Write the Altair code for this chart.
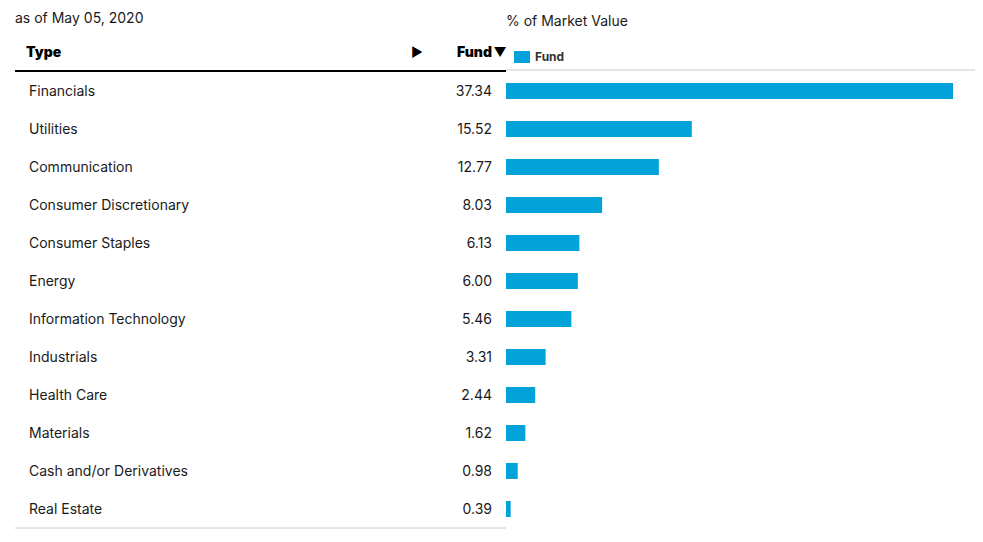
import altair as alt
import pandas as pd

categories = ["Financials", "Utilities", "Communication", "Consumer Discretionary",
              "Consumer Staples", "Energy", "Information Technology", "Industrials",
              "Health Care", "Materials", "Cash and/or Derivatives", "Real Estate"]
values = [37.34, 15.52, 12.77, 8.03, 6.13, 6.00, 5.46, 3.31, 2.44, 1.62, 0.98, 0.39]
series = ["Fund"] * len(categories)

df = pd.DataFrame({"Type": categories, "Value": values, "Series": series})

FONT = "Inter"
BAR = "#03a3d9"
TXT = "#1a1a1a"

yscale = alt.Scale(domain=categories, range=[64, 520], paddingInner=0.58, paddingOuter=0.29)
xscale = alt.Scale(domain=[0, 37.34], range=[498, 945])

base = alt.Chart(df)

bars = base.mark_bar(size=16).encode(
    x=alt.X("Value:Q", scale=xscale, axis=None),
    y=alt.Y("Type:N", scale=yscale, axis=None, sort=categories),
    color=alt.Color("Series:N", scale=alt.Scale(range=[BAR]),
                    legend=alt.Legend(orient="none", legendX=506, legendY=41, title=None,
                                      padding=0, symbolType="M-1,-0.75L1,-0.75L1,0.75L-1,0.75Z",
                                      symbolSize=256, symbolStrokeWidth=0, symbolOpacity=1,
                                      labelFont=FONT, labelFontSize=12, labelFontWeight="bold",
                                      labelColor="#333333", labelOffset=5)),
)

names = base.mark_text(align="left", baseline="middle", font=FONT, fontSize=14, color=TXT, dy=1).encode(
    x=alt.value(21),
    y=alt.Y("Type:N", scale=yscale, axis=None, sort=categories),
    text="Type:N",
)

nums = base.mark_text(align="right", baseline="middle", font=FONT, fontSize=14, color=TXT, dy=1).encode(
    x=alt.value(484),
    y=alt.Y("Type:N", scale=yscale, axis=None, sort=categories),
    text=alt.Text("Value:Q", format=".2f"),
)

one = pd.DataFrame({"k": [0]})

def label(txt, x, y, align="left", size=14, weight="normal", color=TXT):
    return alt.Chart(one).mark_text(text=txt, align=align, baseline="middle", font=FONT,
                                     fontSize=size, fontWeight=weight, color=color).encode(
        x=alt.value(x), y=alt.value(y))

asof = label("as of May 05, 2020", 7, 11)
title = label("% of Market Value", 498, 14)
type_h = label("Type", 18, 45, weight=900, size=14, color="#000000")
arrow = label("▶", 409, 45, align="center", size=13, color="#000000")
fund_h = label("Fund", 484, 45, align="right", weight=900, size=14, color="#000000")
fund_tri = label("▼", 492, 45, align="center", size=13, color="#000000")

def rule(x1, x2, y, color, w):
    return alt.Chart(one).mark_rule(color=color, strokeWidth=w).encode(
        x=alt.value(x1), x2=alt.value(x2), y=alt.value(y))

line_black = rule(7, 498, 63, "#000000", 2)
line_gray = rule(498, 967, 62, "#cccccc", 1)
line_bottom = rule(7, 498, 520, "#cccccc", 1)

chart = alt.layer(
    line_gray, line_black, line_bottom, bars, names, nums,
    asof, title, type_h, arrow, fund_h, fund_tri
).properties(
    width=967, height=526,
    autosize=alt.AutoSizeParams(type="none"),
    padding=0,
).configure_view(stroke=None)

chart.save("out.html", embed_options={"renderer": "svg", "actions": False})
